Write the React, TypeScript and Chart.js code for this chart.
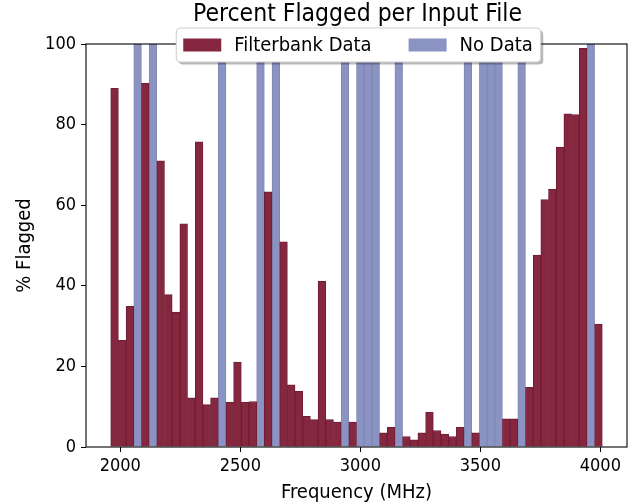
import React, { useEffect, useRef } from "react";
import { Chart, registerables } from "chart.js";

Chart.register(...registerables);

// Center frequency of each input file (MHz)
const frequencyMHz = [
  1976, 2008, 2040, 2072, 2104, 2136, 2168, 2200, 2232, 2264, 2296, 2328, 2360,
  2392, 2424, 2456, 2488, 2520, 2552, 2584, 2616, 2648, 2680, 2712, 2744, 2776,
  2808, 2840, 2872, 2904, 2936, 2968, 3000, 3032, 3064, 3096, 3128, 3160, 3192,
  3224, 3256, 3288, 3320, 3352, 3384, 3416, 3448, 3480, 3512, 3544, 3576, 3608,
  3640, 3672, 3704, 3736, 3768, 3800, 3832, 3864, 3896, 3928, 3960, 3992,
];

// Percent flagged per file (null = no data for that file)
const flaggedPercent: (number | null)[] = [
  89.0, 26.5, 34.9, null, 90.3, null, 71.0, 37.8, 33.5, 55.4, 12.2, 75.7, 10.5,
  12.2, null, 11.1, 21.1, 11.1, 11.3, null, 63.3, null, 50.9, 15.4, 13.8, 7.6,
  6.8, 41.1, 6.8, 6.2, null, 6.2, null, null, null, 3.5, 4.9, null, 2.6,
  1.8, 3.5, 8.6, 4.1, 3.2, 2.6, 4.9, null, 3.5, null, null, null, 7.0,
  7.0, null, 14.8, 47.6, 61.4, 64.0, 74.4, 82.7, 82.5, 98.9, null, 30.5,
];

const noDataLevel = 100;

const xTickValues = [2000, 2500, 3000, 3500, 4000];
const yTickValues = [0, 20, 40, 60, 80, 100];

const seriesLabels = ["Filterbank Data", "No Data"];
const titleText = "Percent Flagged per Input File";
const xAxisLabel = "Frequency (MHz)";
const yAxisLabel = "% Flagged";

const FONT = "'DejaVu Sans Condensed', 'DejaVu Sans', sans-serif";
const RED = "#862740";
const RED_EDGE = "#6e1d35";
const BLUE = "#8a93c1";
const BLUE_EDGE = "#7f88b9";

const W = 639;
const H = 504;

const decorPlugin = {
  id: "decor",
  afterDatasetsDraw(chart: any) {
    const { ctx, chartArea: a } = chart;
    ctx.save();
    ctx.strokeStyle = "#000";
    ctx.lineWidth = 1.1;
    ctx.strokeRect(a.left, a.top, a.right - a.left, a.bottom - a.top);
    ctx.restore();
  },
  afterDraw(chart: any) {
    const { ctx, chartArea: a } = chart;
    const cx = (a.left + a.right) / 2;
    ctx.save();
    // Title
    ctx.font = `24.5px ${FONT}`;
    ctx.fillStyle = "#000";
    ctx.textAlign = "center";
    ctx.textBaseline = "alphabetic";
    ctx.fillText(titleText, cx + 1, 21);

    // Legend
    ctx.font = `20px ${FONT}`;
    const pad = 7;
    const sw = 38;
    const sh = 13;
    const gapST = 13;
    const itemGap = 37;
    const colors = [RED, BLUE];
    const widths = seriesLabels.map((t) => ctx.measureText(t).width);
    const total =
      pad + sw + gapST + widths[0] + itemGap + sw + gapST + widths[1] + pad + 1;
    const bx = cx - total / 2 + 2;
    const by = 28;
    const bh = 34;
    const r = 4;
    const rr = (x: number, y: number, w: number, h: number) => {
      ctx.beginPath();
      ctx.moveTo(x + r, y);
      ctx.lineTo(x + w - r, y);
      ctx.quadraticCurveTo(x + w, y, x + w, y + r);
      ctx.lineTo(x + w, y + h - r);
      ctx.quadraticCurveTo(x + w, y + h, x + w - r, y + h);
      ctx.lineTo(x + r, y + h);
      ctx.quadraticCurveTo(x, y + h, x, y + h - r);
      ctx.lineTo(x, y + r);
      ctx.quadraticCurveTo(x, y, x + r, y);
      ctx.closePath();
    };
    rr(bx + 2.5, by + 2.5, total, bh);
    ctx.fillStyle = "rgba(0,0,0,0.28)";
    ctx.fill();
    rr(bx, by, total, bh);
    ctx.fillStyle = "#fff";
    ctx.fill();
    ctx.strokeStyle = "#cccccc";
    ctx.lineWidth = 1;
    ctx.stroke();

    let x = bx + pad;
    const midY = by + bh / 2;
    ctx.textAlign = "left";
    ctx.textBaseline = "middle";
    seriesLabels.forEach((label, i) => {
      ctx.fillStyle = colors[i];
      ctx.fillRect(x, midY - sh / 2, sw, sh);
      x += sw + gapST;
      ctx.fillStyle = "#000";
      ctx.fillText(label, x, midY + 1);
      x += widths[i] + itemGap;
    });
    ctx.restore();
  },
};

export default function App() {
  const ref = useRef<HTMLCanvasElement | null>(null);

  useEffect(() => {
    if (!ref.current) return;
    Chart.defaults.color = "#000";
    Chart.defaults.font.family = FONT;

    const redData: { x: number; y: number }[] = [];
    const blueData: { x: number; y: number }[] = [];
    frequencyMHz.forEach((f, i) => {
      const v = flaggedPercent[i];
      if (v === null) blueData.push({ x: f, y: noDataLevel });
      else redData.push({ x: f, y: v });
    });

    const chart = new Chart(ref.current, {
      type: "bar",
      data: {
        datasets: [
          {
            label: seriesLabels[0],
            data: redData,
            backgroundColor: RED,
            borderColor: RED_EDGE,
            borderWidth: 1,
            grouped: false,
            barPercentage: 1,
            categoryPercentage: 1,
          } as any,
          {
            label: seriesLabels[1],
            data: blueData,
            backgroundColor: BLUE,
            borderColor: BLUE_EDGE,
            borderWidth: 1,
            grouped: false,
            barPercentage: 1,
            categoryPercentage: 1,
          } as any,
        ],
      },
      options: {
        animation: false,
        responsive: false,
        devicePixelRatio: 1,
        layout: { padding: { top: 44, right: 12, left: 0, bottom: 0 } },
        plugins: {
          legend: { display: false },
          title: { display: false },
          tooltip: { enabled: false },
        },
        scales: {
          x: {
            type: "linear",
            min: 1857,
            max: 4111,
            offset: false,
            grid: {
              display: true,
              drawOnChartArea: false,
              drawTicks: true,
              tickLength: 5,
              color: "#000",
              offset: false,
            },
            border: { display: false },
            ticks: {
              font: { size: 18 },
              padding: 4,
              color: "#000",
              maxRotation: 0,
              callback: (v: any) => String(v),
            },
            afterBuildTicks: (scale: any) => {
              scale.ticks = xTickValues.map((v) => ({ value: v }));
            },
            afterFit: (scale: any) => {
              scale.height = H - 447;
            },
            title: {
              display: true,
              text: xAxisLabel,
              font: { size: 20 },
              padding: { top: 0, bottom: -1 },
              color: "#000",
            },
          },
          y: {
            type: "linear",
            min: 0,
            max: 100,
            grid: {
              display: true,
              drawOnChartArea: false,
              drawTicks: true,
              tickLength: 5,
              color: "#000",
            },
            border: { display: false },
            ticks: {
              font: { size: 18 },
              padding: 5,
              color: "#000",
              callback: (v: any) => String(v),
            },
            afterBuildTicks: (scale: any) => {
              scale.ticks = yTickValues.map((v) => ({ value: v }));
            },
            afterFit: (scale: any) => {
              scale.width = 86;
            },
            title: {
              display: true,
              text: yAxisLabel,
              font: { size: 20 },
              padding: { top: 13, bottom: 0 },
              color: "#000",
            },
          },
        },
      } as any,
      plugins: [decorPlugin],
    });
    return () => chart.destroy();
  }, []);

  return (
    <div style={{ position: "fixed", left: 0, top: 0, width: W, height: H, background: "#fff" }}>
      <canvas ref={ref} width={W} height={H} style={{ width: W, height: H, display: "block" }} />
    </div>
  );
}
